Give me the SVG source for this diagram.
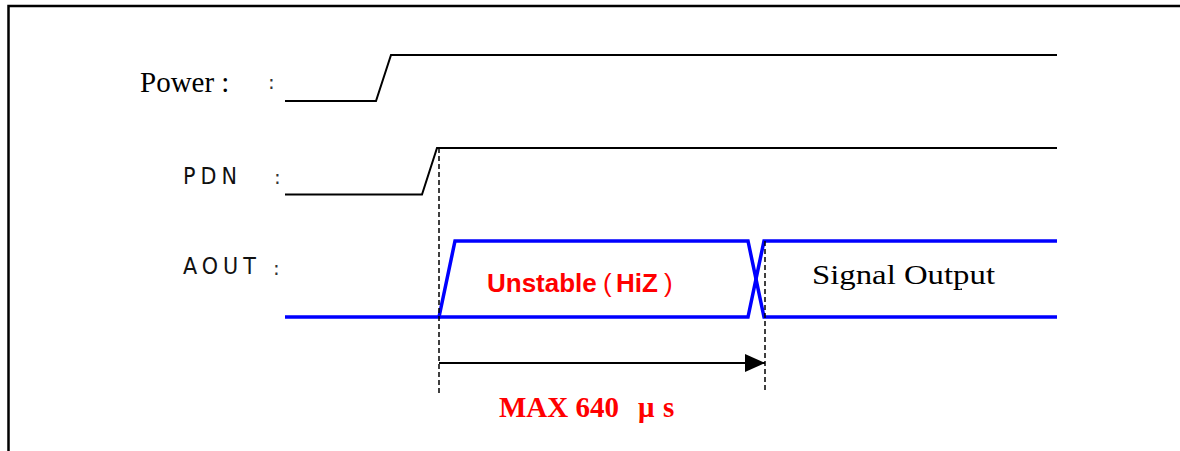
<svg xmlns="http://www.w3.org/2000/svg" width="1180" height="451" viewBox="0 0 1180 451">
<style>
.sig{fill:none;stroke:#000;stroke-width:2}
.blue{fill:none;stroke:#0000ff;stroke-width:3.5}
.dash{fill:none;stroke:#000;stroke-width:1.5;stroke-dasharray:5,3}
.lbl{font-family:"DejaVu Sans Condensed","DejaVu Sans",sans-serif;font-size:23px;fill:#111;letter-spacing:5px}
.col{font-family:"DejaVu Sans",sans-serif;font-size:20px;fill:#333}
.serif{font-family:"Liberation Serif",serif;fill:#000}
.red{fill:#ff0000}
</style>
<defs>
<marker id="ah" markerWidth="20" markerHeight="18" refX="20" refY="9" orient="auto" markerUnits="userSpaceOnUse">
<path d="M0,0 L20,9 L0,18 Z" fill="#000"/>
</marker>
</defs>
<rect width="1180" height="451" fill="#fff"/>
<path d="M8.5,451 V6 H1180" fill="none" stroke="#000" stroke-width="2.5"/>
<g id="power">
<text class="serif" x="140" y="92" font-size="29">Power :</text>
<text class="col" x="268" y="89">:</text>
<path class="sig" d="M285,101 H376 L391,55 H1057"/>
</g>
<g id="pdn">
<text class="lbl" x="183" y="184">PDN</text>
<text class="col" x="274" y="184">:</text>
<path class="sig" d="M285,194.5 H422 L437,148 H1057"/>
</g>
<g id="aout">
<text class="lbl" x="183" y="274">AOUT</text>
<text class="col" x="273" y="275">:</text>
<path class="blue" d="M285,317 H439 L455,241 H748 L764,317 H1057"/>
<path class="blue" d="M439,317 H748 L764,241 H1057"/>
<text x="487" y="292" font-family="'Liberation Sans',sans-serif" font-size="26" font-weight="bold" class="red">Unstable<tspan x="603" font-weight="normal">(</tspan><tspan x="616">HiZ</tspan><tspan x="664" font-weight="normal">)</tspan></text>
<text class="serif" x="812" y="284" font-size="27" textLength="183" lengthAdjust="spacingAndGlyphs">Signal Output</text>
<rect x="960.5" y="288.5" width="1.5" height="1.5" fill="#000"/>
</g>
<g id="connectors">
<line class="dash" x1="439" y1="148" x2="439" y2="393"/>
<line class="dash" x1="765" y1="241" x2="765" y2="393"/>
<line x1="439" y1="363" x2="765" y2="363" stroke="#000" stroke-width="2" marker-end="url(#ah)"/>
</g>
<g id="timing">
<text class="serif red" x="499" y="417" font-size="29" font-weight="bold">MAX 640<tspan x="638">μ</tspan><tspan x="663">s</tspan></text>
</g>
</svg>
